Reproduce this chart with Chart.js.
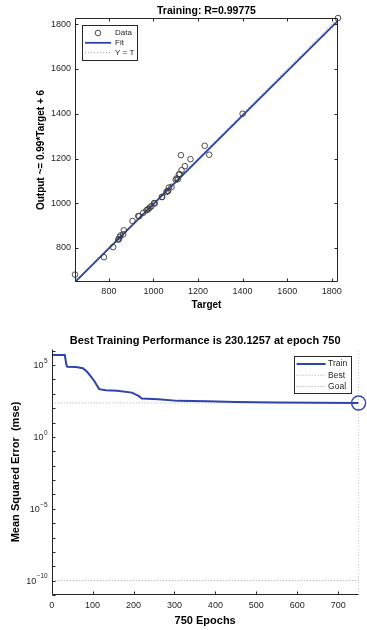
<!DOCTYPE html>
<html>
<head>
<meta charset="utf-8">
<script src="https://cdn.jsdelivr.net/npm/chart.js@4.4.1/dist/chart.umd.min.js"></script>
<style>
  html, body { margin: 0; padding: 0; background: #fff; }
  .box { position: relative; width: 367px; height: 315px; }
</style>
</head>
<body>
<div class="box"><canvas id="regChart"></canvas></div>
<div class="box"><canvas id="perfChart"></canvas></div>
<script>
// --- regression plot ---
var targets = [648, 778, 819, 842, 845, 848, 852, 864, 867, 906, 932, 936, 954, 969, 974, 978,
               984, 991, 1003, 1006, 1038, 1039, 1058, 1063, 1066, 1069, 1081, 1100, 1104, 1110,
               1114, 1118, 1123, 1126, 1141, 1166, 1230, 1250, 1400, 1828];
var outputs = [681, 759, 804, 837, 840, 848, 856, 861, 879, 921, 943, 942, 957, 969, 972, 975,
               981, 987, 1001, 999, 1028, 1028, 1050, 1055, 1055, 1070, 1073, 1105, 1111, 1108,
               1129, 1130, 1215, 1148, 1166, 1197, 1257, 1217, 1400, 1828];
var regTicks = [800, 1000, 1200, 1400, 1600, 1800];
var regMin = 648, regMax = 1828;
var fitSlope = 0.99, fitOffset = 6;

// --- training performance ---
var epochs   = [0, 32, 36, 38, 60, 76, 86, 96, 104, 116, 132, 160, 196, 212, 220, 260, 309, 380, 450, 550, 650, 750];
var trainMse = [4.9e5, 4.9e5, 1.0e5, 7.6e4, 7.3e4, 5.9e4, 3.5e4, 1.55e4, 7.8e3, 2.1e3, 1.75e3, 1.6e3,
                1.2e3, 710, 460, 420, 320, 300, 270, 250, 240, 230.1257];
var bestEpoch = 750, bestMse = 230.1257, goalMse = 1e-10;
var epochTicks = [0, 100, 200, 300, 400, 500, 600, 700];
var mseExps = [-11, -10, -9, -8, -7, -6, -5, -4, -3, -2, -1, 0, 1, 2, 3, 4, 5, 6];
var mseMin = 1e-11, mseMax = 1.3e6;

var BLUE = '#2e45a8';
var INK = '#262626';
var FONT = '"Liberation Sans", Arial, sans-serif';

// inward tick marks, axes box, heading and 10^n labels (MATLAB look)
var frame = {
  id: 'frame',
  afterDraw: function (chart, args, o) {
    var ctx = chart.ctx, a = chart.chartArea;
    var xs = chart.scales.x, ys = chart.scales.y;
    var L = Math.round(a.left) + 0.5, R = Math.round(a.right) - 0.5;
    var T = Math.round(a.top) + 0.5, B = Math.round(a.bottom) - 0.5;
    ctx.save();
    ctx.strokeStyle = INK;
    ctx.lineWidth = 1;
    ctx.setLineDash([]);
    ctx.beginPath();
    if (o.box) {
      ctx.rect(L, T, R - L, B - T);
    } else {
      ctx.moveTo(L, T); ctx.lineTo(L, B); ctx.lineTo(R, B);
    }
    xs.ticks.forEach(function (t) {
      var p = Math.round(xs.getPixelForValue(t.value)) + 0.5;
      ctx.moveTo(p, B); ctx.lineTo(p, B - o.len);
      if (o.box) { ctx.moveTo(p, T); ctx.lineTo(p, T + o.len); }
    });
    ys.ticks.forEach(function (t) {
      var p = Math.round(ys.getPixelForValue(t.value)) + 0.5;
      ctx.moveTo(L, p); ctx.lineTo(L + o.len, p);
      if (o.box) { ctx.moveTo(R, p); ctx.lineTo(R - o.len, p); }
    });
    ctx.stroke();

    if (o.pow10) {
      ctx.fillStyle = INK;
      ctx.textAlign = 'right';
      ctx.textBaseline = 'middle';
      ys.ticks.forEach(function (t) {
        var e = Math.round(Math.log10(t.value));
        if (e % o.pow10 !== 0) return;
        var p = ys.getPixelForValue(t.value);
        var ex = String(e).replace('-', '\u2212');
        ctx.font = '6.5px ' + FONT;
        var w = ctx.measureText(ex).width;
        ctx.fillText(ex, a.left - 4, p - 4);
        ctx.font = '9px ' + FONT;
        ctx.fillText('10', a.left - 4.5 - w, p + 1);
      });
    }

    ctx.fillStyle = '#000';
    ctx.font = o.titleFont;
    ctx.textAlign = 'center';
    ctx.textBaseline = 'middle';
    ctx.fillText(o.title, (a.left + a.right) / 2, a.top - o.titleGap);
    ctx.restore();
  }
};

// legend box inside the plot, entries taken from the datasets
var legendBox = {
  id: 'legendBox',
  afterDraw: function (chart, args, o) {
    var ctx = chart.ctx, a = chart.chartArea;
    var x = o.right != null ? a.right - o.right - o.w : a.left + o.left;
    var y = a.top + o.top;
    ctx.save();
    ctx.fillStyle = '#fff';
    ctx.fillRect(x, y, o.w, o.h);
    ctx.strokeStyle = INK;
    ctx.lineWidth = 1;
    ctx.strokeRect(Math.round(x) + 0.5, Math.round(y) + 0.5, o.w, o.h);
    ctx.font = o.font;
    ctx.textBaseline = 'middle';
    ctx.textAlign = 'left';
    o.items.forEach(function (it, i) {
      var ds = chart.data.datasets[it];
      var cy = y + o.first + i * o.step;
      ctx.strokeStyle = ds.borderColor;
      ctx.lineWidth = ds.borderWidth;
      ctx.setLineDash(ds.borderDash || []);
      ctx.beginPath();
      if (ds.showLine) {
        ctx.moveTo(x + o.sx, cy); ctx.lineTo(x + o.sx + o.sw, cy);
      } else {
        ctx.arc(x + o.sx + o.sw / 2, cy, ds.pointRadius, 0, Math.PI * 2);
      }
      ctx.stroke();
      ctx.setLineDash([]);
      ctx.fillStyle = INK;
      ctx.fillText(ds.label, x + o.tx, cy);
    });
    ctx.restore();
  }
};

function fixedTicks(list) {
  return function (scale) { scale.ticks = list.map(function (v) { return { value: v }; }); };
}

var noGrid = { display: false, drawTicks: false };

// ---------- top: regression ----------
var regPts = targets.map(function (t, i) { return { x: t, y: outputs[i] }; });
var fitPts = [regMin, regMax].map(function (t) { return { x: t, y: fitSlope * t + fitOffset }; });
var idPts = [{ x: regMin, y: regMin }, { x: regMax, y: regMax }];

new Chart(document.getElementById('regChart'), {
  type: 'scatter',
  data: {
    datasets: [
      { label: 'Data', data: regPts, showLine: false, pointStyle: 'circle', pointRadius: 2.8,
        borderColor: '#3a3a3a', borderWidth: 0.9, backgroundColor: 'rgba(0,0,0,0)', clip: false },
      { label: 'Fit', data: fitPts, showLine: true, borderColor: BLUE, borderWidth: 1.8, pointRadius: 0 },
      { label: 'Y = T', data: idPts, showLine: true, borderColor: '#9a9a9a', borderWidth: 1,
        borderDash: [1, 2], pointRadius: 0 }
    ]
  },
  options: {
    responsive: true, maintainAspectRatio: false, animation: false,
    layout: { padding: { top: 18, left: 33, right: 29, bottom: 0 } },
    plugins: {
      legend: { display: false }, tooltip: { enabled: false },
      frame: { box: true, len: 3, title: 'Training: R=0.99775', titleFont: 'bold 10.5px ' + FONT, titleGap: 7 },
      legendBox: { left: 7, top: 7, w: 55, h: 35, first: 8, step: 9.8, sx: 3, sw: 26, tx: 33,
                   font: '8px ' + FONT, items: [0, 1, 2] }
    },
    scales: {
      x: {
        type: 'linear', min: regMin, max: regMax,
        afterBuildTicks: fixedTicks(regTicks),
        afterFit: function (s) { s.height = 33; },
        grid: noGrid, border: { display: false },
        ticks: { color: INK, font: { family: FONT, size: 9 }, padding: 4, maxRotation: 0, autoSkip: false,
                 callback: function (v) { return String(v); } },
        title: { display: true, text: 'Target', color: '#000', font: { family: FONT, size: 10, weight: 'bold' },
                 padding: { top: 0, bottom: 4 } }
      },
      y: {
        type: 'linear', min: regMin, max: regMax,
        afterBuildTicks: fixedTicks(regTicks),
        afterFit: function (s) { s.width = 42; },
        grid: noGrid, border: { display: false },
        ticks: { color: INK, font: { family: FONT, size: 9 }, padding: 4, autoSkip: false,
                 callback: function (v) { return String(v); } },
        title: { display: true, text: 'Output ~= 0.99*Target + 6', color: '#000',
                 font: { family: FONT, size: 10, weight: 'bold' }, padding: { top: 2, bottom: 0 } }
      }
    }
  },
  plugins: [frame, legendBox]
});

// ---------- bottom: performance ----------
var trainPts = epochs.map(function (e, i) { return { x: e, y: trainMse[i] }; });

new Chart(document.getElementById('perfChart'), {
  type: 'scatter',
  data: {
    datasets: [
      { label: 'Train', data: trainPts, showLine: true, borderColor: BLUE, borderWidth: 2, pointRadius: 0 },
      { label: 'Best', data: [{ x: 0, y: bestMse }, { x: bestEpoch, y: bestMse }], showLine: true,
        borderColor: '#9aa6e0', borderWidth: 1, borderDash: [1, 2], pointRadius: 0 },
      { label: '', data: [{ x: bestEpoch, y: mseMin }, { x: bestEpoch, y: mseMax }], showLine: true,
        borderColor: '#9aa6e0', borderWidth: 1, borderDash: [1, 2], pointRadius: 0 },
      { label: 'Goal', data: [{ x: 0, y: goalMse }, { x: bestEpoch, y: goalMse }], showLine: true,
        borderColor: '#9a9a9a', borderWidth: 1, borderDash: [1, 2], pointRadius: 0 },
      { label: '', data: [{ x: bestEpoch, y: bestMse }], showLine: false, pointStyle: 'circle', pointRadius: 7,
        borderColor: BLUE, borderWidth: 1.4, backgroundColor: 'rgba(0,0,0,0)', clip: false }
    ]
  },
  options: {
    responsive: true, maintainAspectRatio: false, animation: false,
    layout: { padding: { top: 34, left: 7, right: 3.5, bottom: 0 } },
    plugins: {
      legend: { display: false }, tooltip: { enabled: false },
      frame: { box: false, len: 3, pow10: 5, title: 'Best Training Performance is 230.1257 at epoch 750',
               titleFont: 'bold 11px ' + FONT, titleGap: 8.3 },
      legendBox: { right: 7.5, top: 7, w: 57, h: 37, first: 8, step: 11.3, sx: 2.5, sw: 29, tx: 34,
                   font: '8.5px ' + FONT, items: [0, 1, 3] }
    },
    scales: {
      x: {
        type: 'linear', min: 0, max: bestEpoch,
        afterBuildTicks: fixedTicks(epochTicks),
        afterFit: function (s) { s.height = 35; },
        grid: noGrid, border: { display: false },
        ticks: { color: INK, font: { family: FONT, size: 9 }, padding: 5, maxRotation: 0, autoSkip: false,
                 callback: function (v) { return String(v); } },
        title: { display: true, text: '750 Epochs', color: '#000', font: { family: FONT, size: 11, weight: 'bold' },
                 padding: { top: 0, bottom: 2.4 } }
      },
      y: {
        type: 'logarithmic', min: mseMin, max: mseMax,
        afterBuildTicks: fixedTicks(mseExps.map(function (e) { return Math.pow(10, e); })),
        afterFit: function (s) { s.width = 44.7; },
        grid: noGrid, border: { display: false },
        // labels 10^n are drawn by the frame plugin with a raised exponent
        ticks: { display: true, autoSkip: false, callback: function () { return ''; } },
        title: { display: true, text: 'Mean Squared Error  (mse)', color: '#000',
                 font: { family: FONT, size: 11, weight: 'bold' }, padding: { top: 2, bottom: 0 } }
      }
    }
  },
  plugins: [frame, legendBox]
});
</script>
</body>
</html>
